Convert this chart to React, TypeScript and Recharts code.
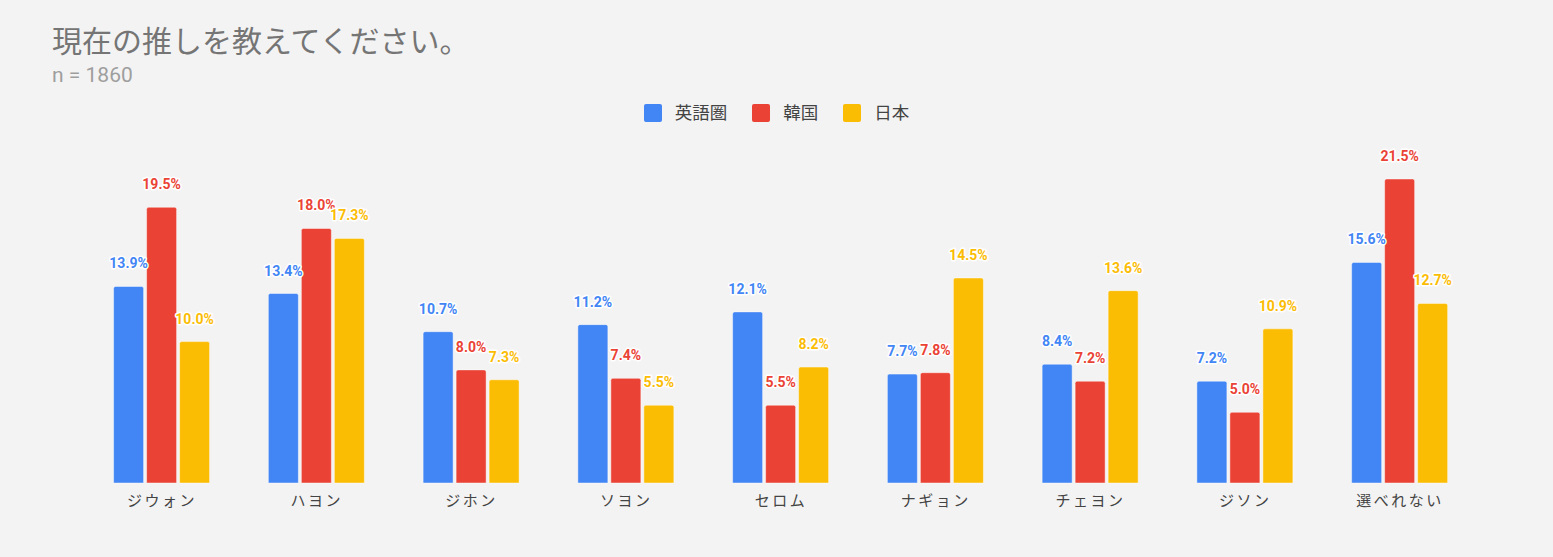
import { BarChart, Bar, XAxis, YAxis, LabelList } from "recharts";

const categories = [
  "ジウォン",
  "ハヨン",
  "ジホン",
  "ソヨン",
  "セロム",
  "ナギョン",
  "チェヨン",
  "ジソン",
  "選べれない",
];

const english = [13.9, 13.4, 10.7, 11.2, 12.1, 7.7, 8.4, 7.2, 15.6];
const korea = [19.5, 18.0, 8.0, 7.4, 5.5, 7.8, 7.2, 5.0, 21.5];
const japan = [10.0, 17.3, 7.3, 5.5, 8.2, 14.5, 13.6, 10.9, 12.7];

const series = [
  { key: "english", name: "英語圏", color: "#4285f4" },
  { key: "korea", name: "韓国", color: "#ea4335" },
  { key: "japan", name: "日本", color: "#fbbc04" },
];

const data = categories.map((name, i) => ({
  name,
  english: english[i],
  korea: korea[i],
  japan: japan[i],
}));

const font = "Roboto, 'Noto Sans CJK JP', sans-serif";

export default function App() {
  return (
    <div
      style={{
        position: "fixed",
        left: 0,
        top: 0,
        width: 1553,
        height: 557,
        background: "#f3f3f3",
        fontFamily: font,
      }}
    >
      <div
        style={{
          position: "absolute",
          left: 52,
          top: 20,
          fontSize: 30,
          lineHeight: "44px",
          color: "#757575",
          whiteSpace: "nowrap",
        }}
      >
        現在の推しを教えてください。
      </div>
      <div
        style={{
          position: "absolute",
          left: 52,
          top: 62,
          fontSize: 21,
          lineHeight: "26px",
          color: "#9e9e9e",
        }}
      >
        n = 1860
      </div>
      <div
        style={{
          position: "absolute",
          left: 0,
          top: 101,
          width: 1553,
          display: "flex",
          justifyContent: "center",
          gap: 25,
          fontSize: 17.5,
          lineHeight: "24px",
          color: "#444",
        }}
      >
        {series.map((s) => (
          <div key={s.key} style={{ display: "flex", alignItems: "center" }}>
            <span
              style={{
                display: "inline-block",
                width: 18,
                height: 18,
                borderRadius: 2,
                background: s.color,
                marginRight: 13,
              }}
            />
            {s.name}
          </div>
        ))}
      </div>
      <div style={{ position: "absolute", left: 0, top: 0 }}>
        <BarChart
          width={1553}
          height={557}
          data={data}
          margin={{ top: 129.5, right: 75.6, bottom: 44, left: 84.6 }}
          barSize={30}
          barGap={3}
        >
          <XAxis
            dataKey="name"
            axisLine={false}
            tickLine={false}
            height={30}
            tickMargin={6}
            interval={0}
            tick={{ fontSize: 15, fill: "#444", fontFamily: font, letterSpacing: 2.5 }}
          />
          <YAxis hide domain={[0, 25]} />
          {series.map((s) => (
            <Bar
              key={s.key}
              dataKey={s.key}
              name={s.name}
              fill={s.color}
              stroke="rgba(255,255,255,0.45)"
              strokeWidth={1}
              radius={[2, 2, 0, 0]}
              isAnimationActive={false}
            >
              <LabelList
                dataKey={s.key}
                position="top"
                offset={18}
                formatter={(v: number) => `${v.toFixed(1)}%`}
                style={{
                  fill: s.color,
                  fontSize: 14,
                  fontWeight: 700,
                  fontFamily: font,
                  stroke: "#ffffff",
                  strokeWidth: 3,
                  paintOrder: "stroke",
                  strokeLinejoin: "round",
                }}
              />
            </Bar>
          ))}
        </BarChart>
      </div>
    </div>
  );
}
